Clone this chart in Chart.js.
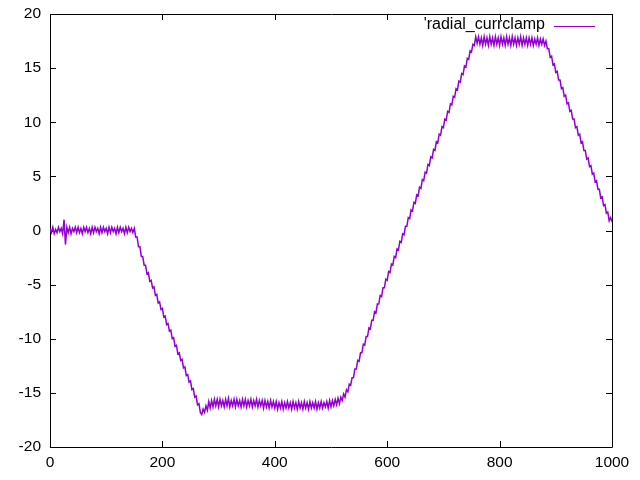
<!DOCTYPE html>
<html>
<head>
<meta charset="utf-8">
<script src="https://cdn.jsdelivr.net/npm/chart.js@4/dist/chart.umd.min.js"></script>
<style>
  html, body { margin: 0; padding: 0; background: #fff; }
  #wrap { width: 640px; height: 480px; }
</style>
</head>
<body>
<div id="wrap"><canvas id="graph" width="640" height="480"></canvas></div>
<script>
// Data
const seriesName = "'radial_currclamp";

const xTicks = [0, 200, 400, 600, 800, 1000];
const yTicks = [-20, -15, -10, -5, 0, 5, 10, 15, 20];

const time = [
    0, 2.5, 5, 7.5, 10, 12.5, 15, 17.5, 20, 22.5, 25, 27.5, 30, 32.5, 35, 37.5, 40, 42.5, 45, 47.5,
    50, 52.5, 55, 57.5, 60, 62.5, 65, 67.5, 70, 72.5, 75, 77.5, 80, 82.5, 85, 87.5, 90, 92.5, 95, 97.5,
    100, 102.5, 105, 107.5, 110, 112.5, 115, 117.5, 120, 122.5, 125, 127.5, 130, 132.5, 135, 137.5, 140, 142.5, 145, 147.5,
    150, 152.5, 155, 157.5, 160, 162.5, 165, 167.5, 170, 172.5, 175, 177.5, 180, 182.5, 185, 187.5, 190, 192.5, 195, 197.5,
    200, 202.5, 205, 207.5, 210, 212.5, 215, 217.5, 220, 222.5, 225, 227.5, 230, 232.5, 235, 237.5, 240, 242.5, 245, 247.5,
    250, 252.5, 255, 257.5, 260, 262.5, 265, 267.5, 270, 272.5, 275, 277.5, 280, 282.5, 285, 287.5, 290, 292.5, 295, 297.5,
    300, 302.5, 305, 307.5, 310, 312.5, 315, 317.5, 320, 322.5, 325, 327.5, 330, 332.5, 335, 337.5, 340, 342.5, 345, 347.5,
    350, 352.5, 355, 357.5, 360, 362.5, 365, 367.5, 370, 372.5, 375, 377.5, 380, 382.5, 385, 387.5, 390, 392.5, 395, 397.5,
    400, 402.5, 405, 407.5, 410, 412.5, 415, 417.5, 420, 422.5, 425, 427.5, 430, 432.5, 435, 437.5, 440, 442.5, 445, 447.5,
    450, 452.5, 455, 457.5, 460, 462.5, 465, 467.5, 470, 472.5, 475, 477.5, 480, 482.5, 485, 487.5, 490, 492.5, 495, 497.5,
    500, 502.5, 505, 507.5, 510, 512.5, 515, 517.5, 520, 522.5, 525, 527.5, 530, 532.5, 535, 537.5, 540, 542.5, 545, 547.5,
    550, 552.5, 555, 557.5, 560, 562.5, 565, 567.5, 570, 572.5, 575, 577.5, 580, 582.5, 585, 587.5, 590, 592.5, 595, 597.5,
    600, 602.5, 605, 607.5, 610, 612.5, 615, 617.5, 620, 622.5, 625, 627.5, 630, 632.5, 635, 637.5, 640, 642.5, 645, 647.5,
    650, 652.5, 655, 657.5, 660, 662.5, 665, 667.5, 670, 672.5, 675, 677.5, 680, 682.5, 685, 687.5, 690, 692.5, 695, 697.5,
    700, 702.5, 705, 707.5, 710, 712.5, 715, 717.5, 720, 722.5, 725, 727.5, 730, 732.5, 735, 737.5, 740, 742.5, 745, 747.5,
    750, 752.5, 755, 757.5, 760, 762.5, 765, 767.5, 770, 772.5, 775, 777.5, 780, 782.5, 785, 787.5, 790, 792.5, 795, 797.5,
    800, 802.5, 805, 807.5, 810, 812.5, 815, 817.5, 820, 822.5, 825, 827.5, 830, 832.5, 835, 837.5, 840, 842.5, 845, 847.5,
    850, 852.5, 855, 857.5, 860, 862.5, 865, 867.5, 870, 872.5, 875, 877.5, 880, 882.5, 885, 887.5, 890, 892.5, 895, 897.5,
    900, 902.5, 905, 907.5, 910, 912.5, 915, 917.5, 920, 922.5, 925, 927.5, 930, 932.5, 935, 937.5, 940, 942.5, 945, 947.5,
    950, 952.5, 955, 957.5, 960, 962.5, 965, 967.5, 970, 972.5, 975, 977.5, 980, 982.5, 985, 987.5, 990, 992.5, 995, 997.5,
    1000
];

const current = [
    0.2, -0.2, 0.3, -0.3, 0.1, -0.2, 0.3, -0.1, 0.2, -0.3, 1.0, -1.3, 0.3, -0.2, 0.3, -0.3, 0.2, -0.1, 0.3, -0.2,
    0.3, -0.2, 0.2, -0.3, 0.3, -0.1, 0.3, -0.2, 0.2, -0.3, 0.3, -0.2, 0.3, -0.1, 0.2, -0.3, 0.3, -0.2, 0.3, -0.1,
    0.2, -0.3, 0.3, -0.2, 0.3, -0.1, 0.2, -0.3, 0.3, -0.2, 0.3, -0.1, 0.2, -0.3, 0.3, -0.2, 0.3, -0.1, 0.2, -0.2,
    0.2, -0.6, -0.6, -1.5, -1.5, -2.4, -2.4, -3.2, -3.2, -4.0, -3.9, -4.7, -4.6, -5.3, -5.2, -6.0, -5.9, -6.7, -6.6, -7.3,
    -7.2, -8.0, -7.9, -8.7, -8.6, -9.3, -9.2, -10.0, -9.9, -10.7, -10.6, -11.4, -11.3, -12.0, -11.9, -12.7, -12.6, -13.4, -13.3, -14.0,
    -13.9, -14.7, -14.6, -15.4, -15.3, -16.1, -16.0, -16.8, -17.0, -16.5, -16.8, -16.2, -16.6, -15.8, -16.4, -15.7, -16.3, -15.6, -16.2, -15.6,
    -16.3, -15.6, -16.2, -15.7, -16.3, -15.6, -16.2, -15.5, -16.3, -15.7, -16.2, -15.6, -16.3, -15.6, -16.2, -15.7, -16.3, -15.6, -16.2, -15.6,
    -16.3, -15.7, -16.2, -15.6, -16.3, -15.7, -16.2, -15.6, -16.3, -15.7, -16.2, -15.7, -16.4, -15.7, -16.3, -15.8, -16.4, -15.7, -16.3, -15.8,
    -16.4, -15.8, -16.5, -15.9, -16.4, -15.8, -16.5, -15.9, -16.4, -15.8, -16.4, -15.9, -16.5, -15.8, -16.4, -15.9, -16.5, -15.8, -16.4, -15.9,
    -16.5, -15.8, -16.4, -15.9, -16.5, -15.8, -16.4, -15.9, -16.4, -15.8, -16.5, -15.9, -16.4, -15.8, -16.4, -15.9, -16.3, -15.8, -16.4, -15.7,
    -16.3, -15.7, -16.2, -15.6, -16.1, -15.5, -16.0, -15.4, -15.7, -15.1, -15.4, -14.7, -14.9, -14.2, -14.3, -13.6, -13.6, -12.8, -12.8, -12.0,
    -12.1, -11.3, -11.3, -10.5, -10.6, -9.8, -9.8, -9.0, -9.1, -8.3, -8.3, -7.5, -7.6, -6.8, -6.8, -6.0, -6.1, -5.3, -5.3, -4.5,
    -4.6, -3.8, -3.9, -3.1, -3.2, -2.4, -2.5, -1.7, -1.8, -1.0, -1.1, -0.3, -0.4, 0.4, 0.4, 1.2, 1.1, 1.9, 1.8, 2.6,
    2.5, 3.3, 3.2, 4.0, 3.9, 4.7, 4.6, 5.4, 5.3, 6.1, 6.0, 6.8, 6.7, 7.5, 7.4, 8.2, 8.1, 8.9, 8.8, 9.6,
    9.5, 10.3, 10.2, 11.0, 10.9, 11.7, 11.6, 12.4, 12.3, 13.1, 13.0, 13.8, 13.7, 14.5, 14.4, 15.2, 15.1, 15.9, 15.8, 16.6,
    16.5, 17.2, 17.1, 17.9, 17.3, 17.9, 17.2, 17.8, 17.1, 17.9, 17.2, 17.8, 17.1, 17.9, 17.2, 17.8, 17.1, 17.9, 17.2, 17.8,
    17.1, 17.9, 17.2, 17.8, 17.1, 17.9, 17.2, 17.8, 17.1, 17.9, 17.2, 17.8, 17.1, 17.8, 17.2, 17.9, 17.1, 17.8, 17.2, 17.8,
    17.1, 17.8, 17.2, 17.8, 17.1, 17.7, 17.2, 17.8, 17.1, 17.7, 17.2, 17.7, 17.1, 17.5, 16.8, 16.8, 16.0, 16.1, 15.3, 15.4,
    14.6, 14.7, 13.9, 13.9, 13.1, 13.2, 12.4, 12.5, 11.7, 11.8, 11.0, 11.1, 10.3, 10.3, 9.5, 9.6, 8.8, 8.9, 8.1, 8.2,
    7.4, 7.4, 6.6, 6.7, 5.9, 6.0, 5.2, 5.3, 4.5, 4.6, 3.8, 3.8, 3.0, 3.1, 2.3, 2.4, 1.6, 1.7, 0.9, 1.2,
    0.8
];

const fontFamily = "'Liberation Sans', Arial, sans-serif";
const lineColor = "#9400d3";
const tickLen = 6;

// gnuplot style frame with inward (mirrored) tick marks
const framePlugin = {
    id: "frame",
    beforeDatasetsDraw(chart) {
        const { ctx, chartArea: a, scales } = chart;
        ctx.save();
        ctx.strokeStyle = "#000";
        ctx.lineWidth = 1;
        ctx.beginPath();
        ctx.rect(a.left + 0.5, a.top + 0.5, a.right - a.left, a.bottom - a.top);
        xTicks.forEach((v) => {
            const px = Math.round(scales.x.getPixelForValue(v)) + 0.5;
            ctx.moveTo(px, a.bottom);
            ctx.lineTo(px, a.bottom - tickLen);
            ctx.moveTo(px, a.top);
            ctx.lineTo(px, a.top + tickLen);
        });
        yTicks.forEach((v) => {
            const py = Math.round(scales.y.getPixelForValue(v)) + 0.5;
            ctx.moveTo(a.left, py);
            ctx.lineTo(a.left + tickLen, py);
            ctx.moveTo(a.right, py);
            ctx.lineTo(a.right - tickLen, py);
        });
        ctx.stroke();
        ctx.restore();
    },
    afterDraw(chart) {
        // key in the top right corner, sample line right of the title
        const ctx = chart.ctx;
        ctx.save();
        ctx.font = "16px " + fontFamily;
        ctx.fillStyle = "#000";
        ctx.textAlign = "right";
        ctx.textBaseline = "middle";
        ctx.fillText(seriesName, 545, 25);
        ctx.strokeStyle = lineColor;
        ctx.lineWidth = 1;
        ctx.beginPath();
        ctx.moveTo(554, 26.5);
        ctx.lineTo(595, 26.5);
        ctx.stroke();
        ctx.restore();
    },
};

new Chart(document.getElementById("graph").getContext("2d"), {
    type: "line",
    data: {
        datasets: [
            {
                label: seriesName,
                data: time.map((t, i) => ({ x: t, y: current[i] })),
                borderColor: lineColor,
                borderWidth: 1.5,
                pointRadius: 0,
                tension: 0,
                fill: false,
            },
        ],
    },
    options: {
        responsive: false,
        animation: false,
        layout: { padding: { top: 14, right: 28, bottom: 0, left: 0 } },
        plugins: {
            legend: { display: false },
            tooltip: { enabled: false },
        },
        scales: {
            x: {
                type: "linear",
                min: xTicks[0],
                max: xTicks[xTicks.length - 1],
                grid: { display: false, drawTicks: false },
                border: { display: false },
                afterBuildTicks: (scale) => { scale.ticks = xTicks.map((v) => ({ value: v })); },
                ticks: {
                    padding: 6,
                    maxRotation: 0,
                    color: "#000",
                    font: { family: fontFamily, size: 15.5 },
                    callback: (v) => String(v),
                },
                afterFit: (scale) => {
                    scale.height = 33;
                    scale.paddingLeft = 0;
                    scale.paddingRight = 0;
                },
            },
            y: {
                min: yTicks[0],
                max: yTicks[yTicks.length - 1],
                grid: { display: false, drawTicks: false },
                border: { display: false },
                afterBuildTicks: (scale) => { scale.ticks = yTicks.map((v) => ({ value: v })); },
                ticks: {
                    padding: 9,
                    color: "#000",
                    font: { family: fontFamily, size: 15.5 },
                    callback: (v) => String(v),
                },
                afterFit: (scale) => {
                    scale.width = 50;
                    scale.paddingTop = 0;
                    scale.paddingBottom = 0;
                },
            },
        },
    },
    plugins: [framePlugin],
});
</script>
</body>
</html>
